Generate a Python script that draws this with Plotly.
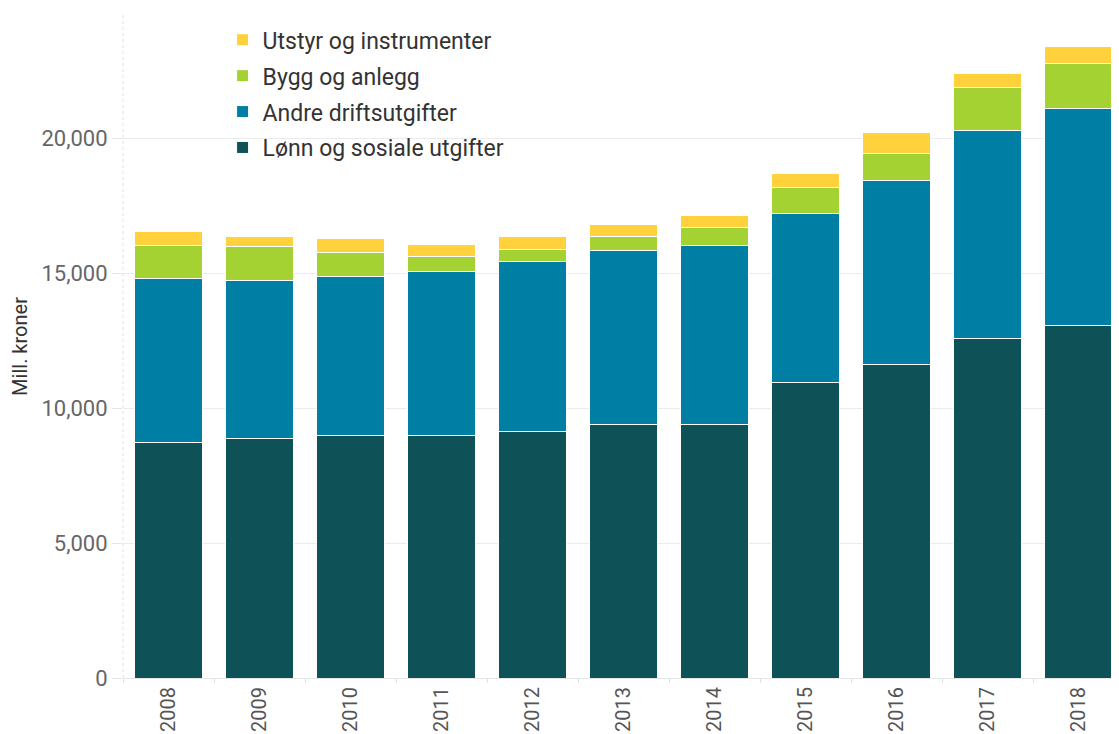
import plotly.graph_objects as go

years = ["2008", "2009", "2010", "2011", "2012", "2013", "2014", "2015", "2016", "2017", "2018"]
lonn = [8720, 8870, 8980, 8980, 9130, 9390, 9390, 10950, 11610, 12560, 13040]
andre = [6085, 5860, 5900, 6085, 6310, 6450, 6640, 6270, 6830, 7740, 8070]
bygg = [1225, 1260, 890, 555, 440, 520, 670, 960, 1000, 1590, 1670]
utstyr = [520, 370, 520, 450, 480, 450, 440, 520, 750, 520, 630]

series = [
    ("Lønn og sosiale utgifter", lonn, "#0e5157", 4),
    ("Andre driftsutgifter", andre, "#007ea3", 3),
    ("Bygg og anlegg", bygg, "#a5d233", 2),
    ("Utstyr og instrumenter", utstyr, "#ffd13d", 1),
]

fig = go.Figure()
for name, vals, col, rank in series:
    fig.add_trace(go.Bar(
        x=years, y=vals, name=name, legendgroup=name, legendrank=rank,
        marker=dict(color=col, line=dict(color="white", width=1)),
    ))

fig.update_layout(
    barmode="stack",
    bargap=0.26,
    width=1111, height=726,
    margin=dict(l=115, r=0, t=7, b=56),
    paper_bgcolor="white", plot_bgcolor="white",
    font=dict(family="Roboto", color="#333"),
    legend=dict(
        x=0.1, y=0.995, xanchor="left", yanchor="top",
        traceorder="grouped", tracegroupgap=3,
        font=dict(size=23, color="#333"),
        bgcolor="rgba(0,0,0,0)",
    ),
    showlegend=True,
)
fig.update_xaxes(
    type="category", range=[-0.5, 10.445],
    tickangle=-90, tickfont=dict(size=20, color="#555"),
    ticks="outside", tickson="boundaries", ticklen=4, tickcolor="#e0e0e0",
    showline=True, linecolor="#e6e6e6", linewidth=1,
    automargin=False,
)
fig.update_yaxes(
    range=[0, 24560], tickvals=[0, 5000, 10000, 15000, 20000], tickformat=",",
    tickfont=dict(size=22, color="#666"),
    ticks="outside", ticklen=10, tickcolor="#e6e6e6",
    showgrid=True, gridcolor="#ebebeb", gridwidth=1, zeroline=False,
    title=dict(text="Mill. kroner", font=dict(size=20, color="#333"), standoff=8),
    automargin=False,
)
fig.add_shape(type="line", xref="paper", yref="paper", x0=0, x1=0, y0=0, y1=1,
              line=dict(color="#e0e0e0", width=1, dash="dot"), layer="below")

fig.write_html("out.html")
